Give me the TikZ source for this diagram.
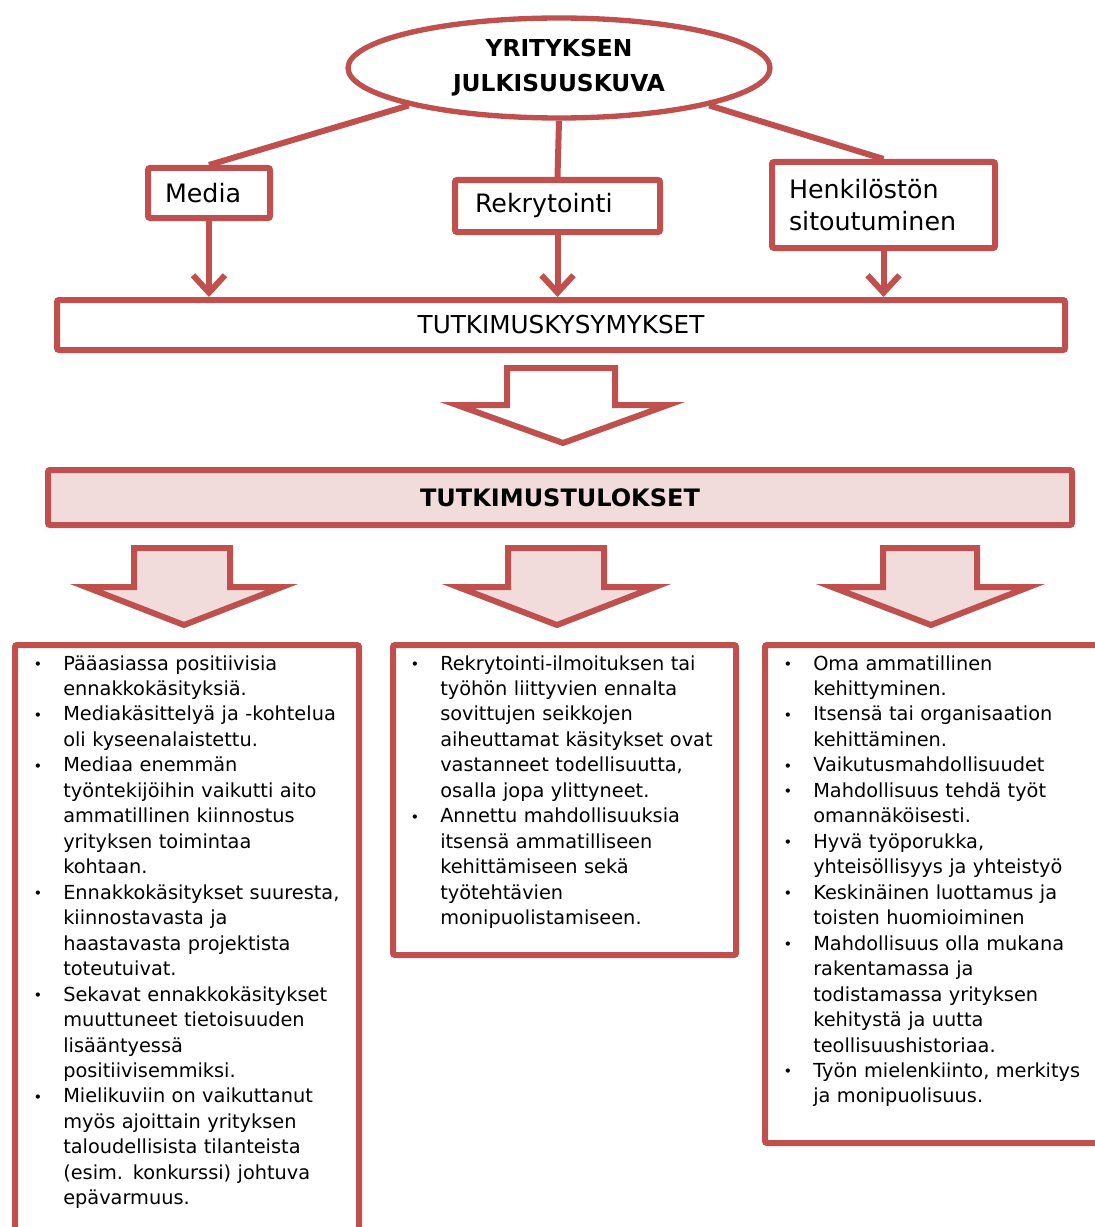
\documentclass[tikz,border=0pt]{standalone}
\usepackage{fontspec}
\setmainfont{DejaVu Sans}
\usetikzlibrary{shapes.geometric,arrows.meta}

\definecolor{accent}{HTML}{C0504D}
\definecolor{blush}{HTML}{F2DCDB}

% bullet at the start of an item, and the indent of its following lines
\newcommand\bl{\makebox[23.25pt][l]{\hspace{1pt}{\fontsize{11pt}{11pt}\selectfont\raisebox{0.5pt}{•}}}}
\newcommand\ind{\hspace*{23.25pt}}

\tikzset{
  frame/.style={draw=accent, line width=4.5pt, fill=white, rounded corners=1.5pt},
  headbox/.style={frame, inner xsep=#1, inner ysep=0pt, align=left,
    font=\fontsize{19pt}{24pt}\selectfont},
  link/.style={draw=accent, line width=4.5pt},
  pointer/.style={link, -{Straight Barb[length=13pt,width=24pt,line width=4.5pt]}},
  blockarrow/.style={draw=accent, line width=4.5pt, miter limit=10},
  listtext/.style={anchor=base west, inner sep=0pt, text width=#1, align=left,
    font=\fontsize{14.5pt}{19.1pt}\selectfont},
}

\begin{document}
\begin{tikzpicture}[x=0.75pt, y=-0.75pt]
\useasboundingbox (0,0) rectangle (1095,1227);
\clip (0,0) rectangle (1095,1227);

% top oval
\node[draw=accent, line width=4pt, fill=white, ellipse, minimum width=316.5pt,
  minimum height=75pt, inner sep=0pt, align=center,
  font=\bfseries\fontsize{17.5pt}{26pt}\selectfont] (ell) at (559,68)
  {YRITYKSEN\\JULKISUUSKUVA};

% three theme boxes
\node[headbox=12.75pt, minimum width=91.5pt, minimum height=37.5pt,
  text width=66pt] (media) at (209,193) {Media};
\node[headbox=15pt, minimum width=153.75pt, minimum height=39pt,
  text width=123.75pt] (rekry) at (557.5,206) {Rekrytointi};
\node[headbox=12.75pt, minimum width=167.25pt, minimum height=64.5pt,
  text width=141.75pt] (henk) at (883.5,205) {Henkilöstön\\sitoutuminen};

% research questions bar
\node[frame, minimum width=756pt, minimum height=37.5pt, inner sep=0pt,
  font=\fontsize{18.5pt}{22pt}\selectfont] (quest) at (561,325) {TUTKIMUSKYSYMYKSET};

% research results bar
\node[frame, fill=blush, minimum width=768pt, minimum height=41.25pt, inner sep=0pt,
  font=\bfseries\fontsize{18pt}{22pt}\selectfont] (results) at (560,497.5) {TUTKIMUSTULOKSET};

% connectors from the oval
\draw[link] (ell.194) -- (media.north);
\draw[link] (ell.south) -- (rekry.north);
\draw[link] (ell.346) -- (henk.north);

\draw[pointer] (media.south) -- (media.south |- quest.north);
\draw[pointer] (rekry.south) -- (rekry.south |- quest.north);
\draw[pointer] (henk.south) -- (henk.south |- quest.north);

% hollow block arrow between the bars
\draw[blockarrow, fill=white] (507,368) -- (615,368) -- (615,405) -- (668,405)
  -- (563,443) -- (457,405) -- (507,405) -- cycle;

% pink block arrows above the result columns
\draw[blockarrow, fill=blush] (134,548) -- (230,548) -- (230,587) -- (282,587)
  -- (184,625) -- (86,587) -- (134,587) -- cycle;
\draw[blockarrow, fill=blush] (508,548) -- (604,548) -- (604,587) -- (655,587)
  -- (557,625) -- (458,587) -- (508,587) -- cycle;
\draw[blockarrow, fill=blush] (883,548) -- (977,548) -- (977,587) -- (1029,587)
  -- (931,625) -- (832,587) -- (883,587) -- cycle;

% result columns
\node[frame, anchor=north west, minimum width=258pt, minimum height=470pt,
  inner sep=0pt] (colA) at (12,642) {};
\node[frame, anchor=north west, minimum width=257.25pt, minimum height=232.5pt,
  inner sep=0pt] (colB) at (390,642) {};
\node[frame, anchor=north west, minimum width=264pt, minimum height=373.5pt,
  inner sep=0pt] (colC) at (762,642) {};

\node[listtext=240pt] (listA) at (32,670) {%
  \bl Pääasiassa positiivisia\\
  \ind ennakkokäsityksiä.\\
  \bl Mediakäsittelyä ja -kohtelua\\
  \ind oli kyseenalaistettu.\\
  \bl Mediaa enemmän\\
  \ind työntekijöihin vaikutti aito\\
  \ind ammatillinen kiinnostus\\
  \ind yrityksen toimintaa\\
  \ind kohtaan.\\
  \bl Ennakkokäsitykset suuresta,\\
  \ind kiinnostavasta ja\\
  \ind haastavasta projektista\\
  \ind toteutuivat.\\
  \bl Sekavat ennakkokäsitykset\\
  \ind muuttuneet tietoisuuden\\
  \ind lisääntyessä\\
  \ind positiivisemmiksi.\\
  \bl Mielikuviin on vaikuttanut\\
  \ind myös ajoittain yrityksen\\
  \ind taloudellisista tilanteista\\
  \ind (esim. konkurssi) johtuva\\
  \ind epävarmuus.};

\node[listtext=240pt] (listB) at (409,670) {%
  \bl Rekrytointi-ilmoituksen tai\\
  \ind työhön liittyvien ennalta\\
  \ind sovittujen seikkojen\\
  \ind aiheuttamat käsitykset ovat\\
  \ind vastanneet todellisuutta,\\
  \ind osalla jopa ylittyneet.\\
  \bl Annettu mahdollisuuksia\\
  \ind itsensä ammatilliseen\\
  \ind kehittämiseen sekä\\
  \ind työtehtävien\\
  \ind monipuolistamiseen.};

\node[listtext=240pt] (listC) at (782,670) {%
  \bl Oma ammatillinen\\
  \ind kehittyminen.\\
  \bl Itsensä tai organisaation\\
  \ind kehittäminen.\\
  \bl Vaikutusmahdollisuudet\\
  \bl Mahdollisuus tehdä työt\\
  \ind omannäköisesti.\\
  \bl Hyvä työporukka,\\
  \ind yhteisöllisyys ja yhteistyö\\
  \bl Keskinäinen luottamus ja\\
  \ind toisten huomioiminen\\
  \bl Mahdollisuus olla mukana\\
  \ind rakentamassa ja\\
  \ind todistamassa yrityksen\\
  \ind kehitystä ja uutta\\
  \ind teollisuushistoriaa.\\
  \bl Työn mielenkiinto, merkitys\\
  \ind ja monipuolisuus.};
\end{tikzpicture}
\end{document}
